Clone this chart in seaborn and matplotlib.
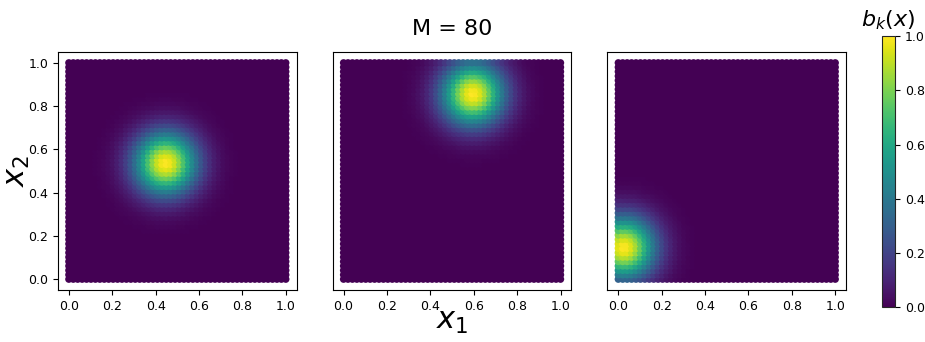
import numpy as np
import pandas as pd
import matplotlib
matplotlib.use('Agg')
import matplotlib.pyplot as plt
import seaborn as sns

# grid of points and the three basis centres
n_grid = 50
centres_x = [0.45, 0.60, 0.03]
centres_y = [0.54, 0.86, 0.15]
width = 0.1
M = 80

g = np.linspace(0, 1, n_grid)
gx, gy = np.meshgrid(g, g)
pts = pd.DataFrame({'x1': gx.ravel(), 'x2': gy.ravel()})

sns.set_style('white')
plt.rcParams['text.color'] = 'black'
plt.rcParams['xtick.color'] = 'black'
plt.rcParams['ytick.color'] = 'black'
plt.rcParams['axes.labelcolor'] = 'black'

fig = plt.figure(figsize=(9.25, 3.42), dpi=100)
axes = [fig.add_axes([0.0627 + i * 0.297, 0.152, 0.258, 0.696]) for i in range(3)]
cax = fig.add_axes([0.9535, 0.102, 0.014, 0.792])

norm = plt.Normalize(0, 1)
for i, ax in enumerate(axes):
    d2 = (pts['x1'] - centres_x[i])**2 + (pts['x2'] - centres_y[i])**2
    pts['b'] = np.exp(-d2 / (2 * width**2))
    sns.scatterplot(data=pts, x='x1', y='x2', hue='b', palette='viridis', hue_norm=norm,
                    s=28, linewidth=0, legend=False, ax=ax)
    ax.set_xlim(-0.05, 1.05)
    ax.set_ylim(-0.05, 1.05)
    ax.set_xticks([0, 0.2, 0.4, 0.6, 0.8, 1.0])
    ax.tick_params(labelsize=9, length=3.5, bottom=True, left=(i == 0))
    ax.set_xlabel('')
    ax.set_ylabel('')
    for sp in ax.spines.values():
        sp.set_color('black')
        sp.set_linewidth(0.8)
    if i > 0:
        ax.set_yticks([])
    else:
        ax.set_yticks([0, 0.2, 0.4, 0.6, 0.8, 1.0])

axes[0].set_ylabel('$x_2$', fontsize=22, labelpad=-3)
axes[1].set_xlabel('$x_1$', fontsize=22, labelpad=-4)
axes[1].set_title(f'M = {M}', fontsize=16, pad=12)

sm = plt.cm.ScalarMappable(norm=norm, cmap='viridis')
cb = fig.colorbar(sm, cax=cax)
cb.outline.set_linewidth(0.8)
cb.ax.tick_params(labelsize=9, length=3.5, right=True)
cb.ax.set_title('$b_k(x)$', fontsize=16, pad=7)

fig.savefig('out.png', dpi=100, facecolor='white')
